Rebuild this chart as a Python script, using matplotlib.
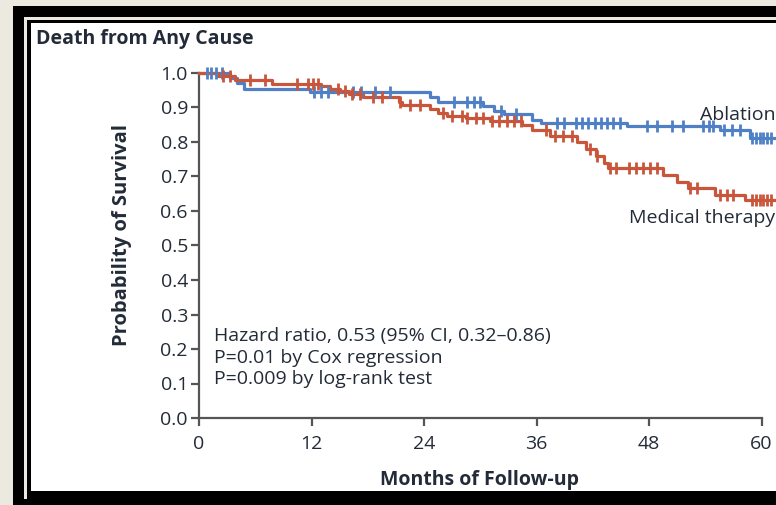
import numpy as np
import matplotlib.pyplot as plt
from matplotlib.patches import Rectangle

plt.rcParams['font.family'] = ['Open Sans', 'DejaVu Sans']

# Kaplan-Meier steps (months, survival)
abl_t = [0, 3.3, 4.0, 4.8, 11.8, 24.6, 25.5, 30.3, 31.5, 32.5, 35.5, 36.5, 45.7, 55.6, 58.8, 61.5]
abl_s = [1.0, 0.985, 0.97, 0.953, 0.946, 0.93, 0.917, 0.905, 0.89, 0.88, 0.865, 0.855, 0.847, 0.835, 0.812, 0.812]
abl_cens = [0.8, 1.3, 1.8, 2.4, 12.3, 13.0, 13.8, 16.4, 17.3, 18.8, 20.4, 27.2, 28.6, 29.3, 30.0,
            32.2, 33.8, 38.2, 38.9, 40.2, 40.9, 41.5, 42.2, 42.9, 43.5, 44.2, 44.9, 47.8, 48.9,
            50.5, 51.6, 53.8, 54.4, 54.8, 56.0, 56.8, 57.7, 59.0, 59.4, 59.8, 60.2, 60.6, 61.0]

med_t = [0, 2.0, 3.8, 7.8, 13.0, 14.0, 15.0, 16.0, 17.5, 21.3, 21.6, 24.6, 25.5, 26.5, 28.5, 31.0,
         34.5, 35.5, 37.4, 40.3, 41.3, 42.3, 43.2, 43.6, 49.5, 51.0, 52.2, 55.0, 58.2, 61.5]
med_s = [1.0, 0.99, 0.98, 0.968, 0.962, 0.955, 0.948, 0.94, 0.931, 0.915, 0.907, 0.895, 0.884, 0.876,
         0.87, 0.862, 0.85, 0.835, 0.818, 0.80, 0.78, 0.76, 0.739, 0.725, 0.704, 0.684, 0.667,
         0.646, 0.632, 0.632]
med_cens = [2.6, 3.3, 5.4, 7.0, 10.4, 11.6, 12.2, 12.7, 14.8, 15.6, 16.3, 17.2, 18.6, 19.5, 21.4,
            22.5, 23.6, 26.0, 27.0, 28.0, 28.6, 29.5, 30.3, 31.3, 32.0, 32.8, 33.6, 34.3, 37.0,
            38.0, 38.8, 39.8, 41.7, 42.5, 43.8, 44.5, 45.9, 46.6, 47.4, 48.1, 48.9, 52.4, 53.1,
            55.6, 56.3, 57.0, 59.0, 59.4, 59.8, 60.2, 60.6, 61.0]

xticks = [0, 12, 24, 36, 48, 60]
yticks = [0.0, 0.1, 0.2, 0.3, 0.4, 0.5, 0.6, 0.7, 0.8, 0.9, 1.0]

blue = '#4F80C6'
red = '#C9553A'
txt = '#232B38'


def surv_at(t, st, ss):
    i = np.searchsorted(st, t, side='right') - 1
    return np.array(ss)[i]


W, H = 776, 505
fig = plt.figure(figsize=(W / 100, H / 100), dpi=100)
fig.patch.set_facecolor('#ECE9E1')


def frect(x0, y0, x1, y1, color):
    # pixel box (top-left origin) to figure fraction
    fig.patches.append(Rectangle((x0 / W, 1 - y1 / H), (x1 - x0) / W, (y1 - y0) / H,
                                 transform=fig.transFigure, facecolor=color, edgecolor='none', zorder=0))


frect(13, 6, 790, 505, 'black')
frect(24, 17, 790, 499, '#ECE9E1')
frect(27, 20, 790, 500, 'black')
frect(31, 23, 790, 491, 'white')

ax = fig.add_axes([199 / W, 1 - 418 / H, (775.6 - 199) / W, (418 - 73) / H])
ax.set_zorder(5)
ax.set_facecolor('none')
ax.set_xlim(0, 61.5)
ax.set_ylim(0, 1.0)

ax.step(abl_t, abl_s, where='post', color=blue, lw=2.3, clip_on=False, zorder=3)
ax.step(med_t, med_s, where='post', color=red, lw=2.3, clip_on=False, zorder=3)
ax.plot(abl_cens, surv_at(abl_cens, abl_t, abl_s), ls='none', marker='|', ms=8, mew=2,
        color=blue, clip_on=False, zorder=4)
ax.plot(med_cens, surv_at(med_cens, med_t, med_s), ls='none', marker='|', ms=8, mew=2,
        color=red, clip_on=False, zorder=4)

for s in ['top', 'right']:
    ax.spines[s].set_visible(False)
ax.spines['left'].set_bounds(0, 1)
ax.spines['bottom'].set_bounds(0, 60)
for s in ['left', 'bottom']:
    ax.spines[s].set_color('#555555')
    ax.spines[s].set_linewidth(1.6)

ax.set_xticks(xticks)
ax.set_yticks(yticks)
ax.set_yticklabels(['%.1f' % v for v in yticks])
ax.tick_params(axis='both', direction='out', length=6, width=1.6, color='#555555',
               labelsize=14, labelcolor=txt, pad=2)
ax.tick_params(axis='x', pad=6)

ax.set_xlabel('Months of Follow-up', fontsize=14, fontweight='bold', color=txt, va='center')
ax.xaxis.set_label_coords((480 - 199) / (775.6 - 199), -(480 - 418) / (418 - 73))
ax.set_ylabel('Probability of Survival', fontsize=14.5, fontweight='bold', color=txt, va='center')
ax.yaxis.set_label_coords(-(199 - 122) / (775.6 - 199), (418 - 235) / (418 - 73))

ax.text(1.6, 0.264, 'Hazard ratio, 0.53 (95% CI, 0.32\u20130.86)\nP=0.01 by Cox regression\nP=0.009 by log-rank test',
        fontsize=14, color=txt, va='top', ha='left', linespacing=1.26)
ax.text(61.5, 0.878, 'Ablation', fontsize=14, color=txt, ha='right', va='center')
ax.text(61.5, 0.58, 'Medical therapy', fontsize=14, color=txt, ha='right', va='center')

fig.text(36 / W, 1 - 39 / H, 'Death from Any Cause', fontsize=14, fontweight='bold',
         color=txt, ha='left', va='center')

fig.savefig('out.png', dpi=100, facecolor=fig.get_facecolor())
